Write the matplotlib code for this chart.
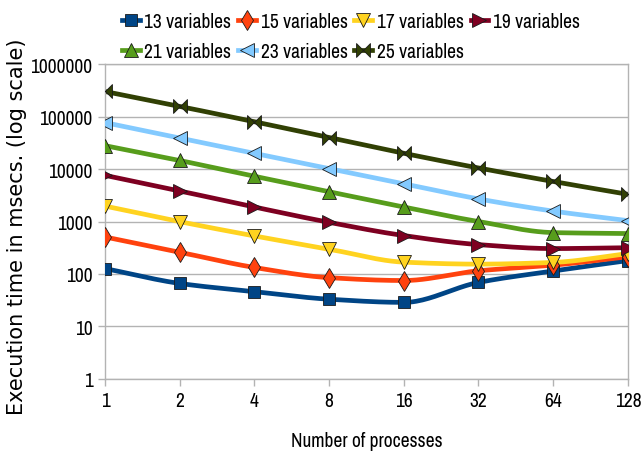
import numpy as np
import matplotlib
matplotlib.use("Agg")
import matplotlib.pyplot as plt
from matplotlib.path import Path
from matplotlib import font_manager as fm

procs = [1, 2, 4, 8, 16, 32, 64, 128]
labels = ["13 variables", "15 variables", "17 variables", "19 variables",
          "21 variables", "23 variables", "25 variables"]

v13 = [127, 66, 46, 33, 28.7, 69, 114, 180]
v15 = [508, 260, 133, 85, 75, 115, 147, 213]
v17 = [1970, 995, 531, 297, 168, 154, 166, 245]
v19 = [7600, 3830, 1890, 965, 540, 363, 305, 317]
v21 = [28000, 14600, 7300, 3700, 1890, 1000, 615, 590]
v23 = [77000, 39000, 20000, 10200, 5250, 2700, 1580, 1040]
v25 = [302000, 157000, 80000, 40000, 20000, 10500, 5800, 3300]
series = [v13, v15, v17, v19, v21, v23, v25]

colors = ["#004586", "#ff420e", "#ffd320", "#7e0021",
          "#579d1c", "#83caff", "#314004"]

bowtie = Path([(-1, 1), (-1, -1), (1, 1), (1, -1), (-1, 1)],
              [Path.MOVETO, Path.LINETO, Path.LINETO, Path.LINETO, Path.CLOSEPOLY])
markers = ["s", "d", "v", ">", "^", "<", bowtie]
msizes = [9, 10, 10, 10, 10, 10, 10]


def smooth(xs, ys, n=24):
    # monotone cubic (Fritsch-Carlson) through the points in log-log space
    t = np.log2(np.asarray(xs, float))
    v = np.log10(np.asarray(ys, float))
    h = np.diff(t)
    d = np.diff(v) / h
    m = np.zeros_like(v)
    m[0], m[-1] = d[0], d[-1]
    for i in range(1, len(v) - 1):
        if d[i - 1] * d[i] > 0:
            w1 = 2 * h[i] + h[i - 1]
            w2 = h[i] + 2 * h[i - 1]
            m[i] = (w1 + w2) / (w1 / d[i - 1] + w2 / d[i])
    ts, vs = [], []
    for i in range(len(v) - 1):
        s = np.linspace(0, 1, n, endpoint=(i == len(v) - 2))
        h00 = 2 * s ** 3 - 3 * s ** 2 + 1
        h10 = s ** 3 - 2 * s ** 2 + s
        h01 = -2 * s ** 3 + 3 * s ** 2
        h11 = s ** 3 - s ** 2
        ts.append(t[i] + s * h[i])
        vs.append(h00 * v[i] + h10 * h[i] * m[i] + h01 * v[i + 1] + h11 * h[i] * m[i + 1])
    return 2 ** np.concatenate(ts), 10 ** np.concatenate(vs)


installed = {f.name for f in fm.fontManager.ttflist}
narrow_pick = [n for n in ["Liberation Sans Narrow", "Arial Narrow", "Archivo Narrow",
                           "PT Sans Narrow", "Roboto Condensed", "Pragati Narrow",
                           "Fira Sans Condensed", "IBM Plex Sans Condensed"]
               if n in installed][:1]
narrow = narrow_pick + ["Liberation Sans", "DejaVu Sans"]

fig = plt.figure(figsize=(6.44, 4.56), dpi=100)
ax = fig.add_axes([0.163, 0.167, 0.812, 0.690])

handles = []
for vals, col, mk, ms, lab in zip(series, colors, markers, msizes, labels):
    sx, sy = smooth(procs, vals)
    ax.plot(sx, sy, color=col, lw=3.4, solid_capstyle="round", zorder=2)
    ax.plot(procs, vals, ls="none", marker=mk, ms=ms, mfc=col,
            mec="#1a1a1a", mew=0.6, zorder=3)
    h, = ax.plot([], [], color=col, lw=3.4, marker=mk, ms=ms, mfc=col,
                 mec="#1a1a1a", mew=0.6, label=lab)
    handles.append(h)

ax.set_xscale("log", base=2)
ax.set_yscale("log")
ax.set_xlim(1, 128)
ax.set_ylim(1, 1000000)
ax.set_xticks(procs)
ax.set_xticklabels([str(p) for p in procs])
ax.minorticks_off()
ax.set_yticks([1, 10, 100, 1000, 10000, 100000, 1000000])
ax.set_yticklabels(["1", "10", "100", "1000", "10000", "100000", "1000000"])

ax.grid(axis="y", color="#b3b3b3", lw=1)
ax.set_axisbelow(True)
for sp in ax.spines.values():
    sp.set_color("#b3b3b3")
    sp.set_linewidth(1)
ax.tick_params(length=5, color="#b3b3b3", width=1, pad=4, labelsize=14)
for t in ax.get_xticklabels() + ax.get_yticklabels():
    t.set_family(narrow)

ax.set_xlabel("Number of processes", fontsize=14, family=narrow, labelpad=15)
ax.set_ylabel("Execution time in msecs. (log scale)", fontsize=15,
              family=["DejaVu Sans"])
ax.yaxis.set_label_coords(-0.15, 0.485)

order = [0, 4, 1, 5, 2, 6, 3]
leg = fig.legend([handles[i] for i in order], [labels[i] for i in order],
                 ncol=4, loc="upper center", bbox_to_anchor=(0.545, 1.01),
                 frameon=False, handlelength=0.9, handletextpad=0.25,
                 columnspacing=0.35, labelspacing=0.55,
                 prop={"family": narrow, "size": 14})

fig.savefig("out.png", dpi=100)
